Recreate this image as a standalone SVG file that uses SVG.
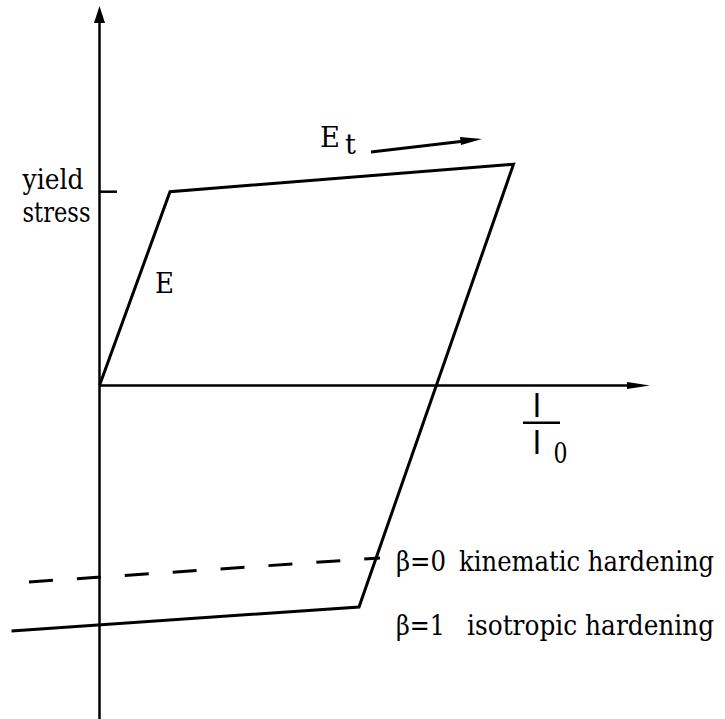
<svg xmlns="http://www.w3.org/2000/svg" width="725" height="719" viewBox="0 0 725 719">
<style>
.ax{stroke:#000;stroke-width:2.5;fill:none}
.cv{stroke:#000;stroke-width:3;fill:none;stroke-linejoin:miter}
.dash{stroke:#000;stroke-width:3;fill:none;stroke-dasharray:24 24}
text{fill:#000}
.t{font-family:'DejaVu Serif',serif;font-size:27px}
.s{font-family:'Liberation Sans','DejaVu Sans',sans-serif;font-size:33px}
</style>
<rect width="725" height="719" fill="#fff"/>
<g id="axes">
<line class="ax" x1="99.5" y1="20" x2="99.5" y2="719"/>
<polygon points="99.5,6 94,23 105,23" fill="#000"/>
<line class="ax" x1="99.5" y1="385.5" x2="630" y2="385.5"/>
<polygon points="650,385.5 627,382 627,389" fill="#000"/>
<line class="ax" x1="99.5" y1="191.7" x2="117" y2="191.7"/>
</g>
<g id="curves">
<polyline class="cv" points="99.5,385.5 170,191.7 513.5,164.3 359,607 11.5,631"/>
<line class="dash" x1="29" y1="582" x2="380" y2="558"/>
</g>
<g id="connectors">
<line class="cv" x1="371" y1="152" x2="465" y2="141"/>
<polygon points="482,139 460,137 461,145" fill="#000"/>
</g>
<g id="labels">
<text class="t" x="22.5" y="189" textLength="61" lengthAdjust="spacingAndGlyphs">yield</text>
<text class="t" x="22.5" y="221.5" textLength="68" lengthAdjust="spacingAndGlyphs">stress</text>
<text class="t" x="155" y="293" textLength="19" lengthAdjust="spacingAndGlyphs">E</text>
<text class="t" x="320" y="147" textLength="20" lengthAdjust="spacingAndGlyphs">E</text>
<text class="t" x="345" y="154" font-size="20">t</text>
<text class="s" x="537" y="416.5" text-anchor="middle">l</text>
<line class="ax" x1="523" y1="422.7" x2="560" y2="422.7"/>
<text class="s" x="537" y="453.5" text-anchor="middle">l</text>
<text class="t" x="553.5" y="462.5" font-size="26" textLength="14" lengthAdjust="spacingAndGlyphs">0</text>
<text class="t" x="396" y="571" textLength="50" lengthAdjust="spacingAndGlyphs">β=0</text>
<text class="t" transform="translate(459,571) scale(0.9,1)" x="0" y="0">kinematic hardening</text>
<text class="t" x="396" y="635" textLength="49" lengthAdjust="spacingAndGlyphs">β=1</text>
<text class="t" transform="translate(467,635) scale(0.92,1)" x="0" y="0">isotropic hardening</text>
</g>
</svg>
